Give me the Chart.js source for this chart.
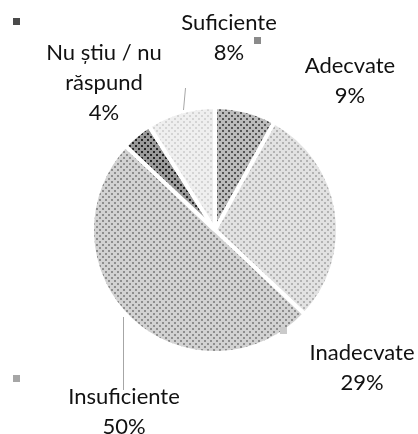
<!DOCTYPE html>
<html>
<head>
<meta charset="utf-8">
<script src="https://cdn.jsdelivr.net/npm/chart.js@4/dist/chart.umd.min.js"></script>
<style>
  html, body { margin: 0; padding: 0; background: #fff; }
  #wrap { width: 418px; height: 434px; position: relative; }
</style>
</head>
<body>
<div id="wrap"><canvas id="pie"></canvas></div>
<script>
// data, clockwise from 12 o'clock
const categories = ["Suficiente", "Inadecvate", "Insuficiente", "Nu știu / nu răspund", "Adecvate"];
const values = [8, 29, 50, 4, 9];
const labelLines = [["Suficiente"], ["Inadecvate"], ["Insuficiente"], ["Nu știu / nu", "răspund"], ["Adecvate"]];

// grey hatch styles per slice (base, dots)
const baseColors = ["#bcbcbc", "#e2e2e2", "#d2d2d2", "#9a9a9a", "#efefef"];
const dotColors = ["#555555", "#b3b3b3", "#8e8e8e", "#262626", "#d4d4d4"];
const keyColors = ["#8a8a8a", "#cacaca", "#a6a6a6", "#4a4a4a", null];

function makeHatch(base, dot) {
  const c = document.createElement("canvas");
  c.width = 6;
  c.height = 6;
  const g = c.getContext("2d");
  g.fillStyle = base;
  g.fillRect(0, 0, 6, 6);
  g.fillStyle = dot;
  g.fillRect(0, 4, 2, 2);
  g.fillRect(3, 1, 2, 2);
  return g.createPattern(c, "repeat");
}

const ctx = document.getElementById("pie").getContext("2d");
const fills = baseColors.map((b, i) => makeHatch(b, dotColors[i]));

// where each label / key square / leader sits, relative to pie centre
const labelPos = [[14, -207], [147, 123], [-91, 167], [-111, -177], [135, -164]];
const keyPos = [[42, -190], [68, 100], [-199, 148], [-199, -209], null];
const leaders = [null, null, [[-92, 87], [-92, 160]], null, [[-32, -120], [-30, -142]]];

const labelPlugin = {
  id: "pieLabels",
  afterDraw(chart) {
    const arc = chart.getDatasetMeta(0).data[0];
    const cx = arc.x, cy = arc.y;
    const total = values.reduce((a, b) => a + b, 0);
    const g = chart.ctx;
    g.save();

    // leader lines
    g.strokeStyle = "#a6a6a6";
    g.lineWidth = 1;
    leaders.forEach((l) => {
      if (!l) return;
      g.beginPath();
      g.moveTo(cx + l[0][0] + 0.5, cy + l[0][1]);
      g.lineTo(cx + l[1][0] + 0.5, cy + l[1][1]);
      g.stroke();
    });

    // little key squares
    keyPos.forEach((p, i) => {
      if (!p) return;
      g.fillStyle = keyColors[i];
      g.fillRect(cx + p[0] - 3, cy + p[1] - 3, 7, 7);
    });

    // text
    g.fillStyle = "#111111";
    g.font = "22px Lato";
    g.textAlign = "center";
    g.textBaseline = "middle";
    labelPos.forEach((p, i) => {
      const lines = labelLines[i].concat([Math.round(values[i] / total * 100) + "%"]);
      lines.forEach((t, k) => {
        g.fillText(t, cx + p[0], cy + p[1] + k * 30);
      });
    });
    g.restore();
  }
};

new Chart(ctx, {
  type: "pie",
  data: {
    labels: categories,
    datasets: [
      {
        data: values,
        backgroundColor: fills,
        borderColor: "#ffffff",
        borderWidth: 4,
      },
    ],
  },
  options: {
    responsive: true,
    maintainAspectRatio: false,
    animation: false,
    layout: { padding: { top: 105, bottom: 79, left: 90, right: 78 } },
    plugins: {
      legend: { display: false },
      tooltip: { enabled: false },
    },
  },
  plugins: [labelPlugin],
});
</script>
</body>
</html>
